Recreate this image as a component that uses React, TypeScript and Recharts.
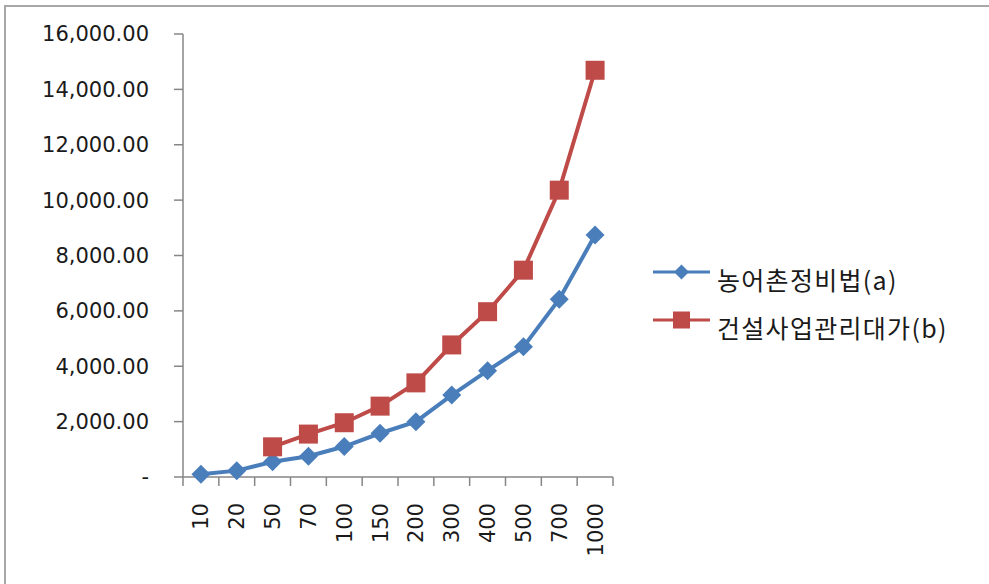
import React from 'react';
import { LineChart, Line, XAxis, YAxis } from 'recharts';

const categories = ['10', '20', '50', '70', '100', '150', '200', '300', '400', '500', '700', '1000'];
const seriesA = [100, 230, 550, 750, 1100, 1580, 2000, 2960, 3840, 4700, 6420, 8740];
const seriesB: (number | null)[] = [null, null, 1090, 1550, 1960, 2560, 3400, 4770, 5970, 7470, 10360, 14690];
const yTicks = [0, 2000, 4000, 6000, 8000, 10000, 12000, 14000, 16000];
const seriesNames = ['농어촌정비법(a)', '건설사업관리대가(b)'];
const seriesColors = ['#4a7ebb', '#be4b48'];

const data = categories.map((c, i) => ({ cat: c, a: seriesA[i], b: seriesB[i] }));

const W = 989;
const H = 584;
const PLOT_LEFT = 183;
const PLOT_RIGHT = 613;
const PLOT_TOP = 34;
const PLOT_BOTTOM = 477;
const PLOT_W = PLOT_RIGHT - PLOT_LEFT;
const X_AXIS_H = 80;
const AXIS_COLOR = '#868686';
const TEXT_COLOR = '#1a1a1a';
const FONT = '"DejaVu Sans", Verdana, sans-serif';

const fmtY = (v: number) =>
  v === 0 ? '-' : v.toLocaleString('en-US', { minimumFractionDigits: 2, maximumFractionDigits: 2 });

const Diamond = (props: any) => {
  const { cx, cy, r = 9.5, fill } = props;
  if (cx == null || cy == null || isNaN(cx) || isNaN(cy)) return <g />;
  return <polygon points={`${cx},${cy - r} ${cx + r},${cy} ${cx},${cy + r} ${cx - r},${cy}`} fill={fill} />;
};

const Square = (props: any) => {
  const { cx, cy, s = 19, fill } = props;
  if (cx == null || cy == null || isNaN(cx) || isNaN(cy)) return <g />;
  return <rect x={cx - s / 2} y={cy - s / 2} width={s} height={s} fill={fill} />;
};

const XTick = (props: any) => {
  const { x, y, payload, index } = props;
  const half = PLOT_W / categories.length / 2;
  return (
    <g>
      <line x1={x - half} x2={x - half} y1={y} y2={y + 9} stroke={AXIS_COLOR} strokeWidth={1.5} />
      {index === categories.length - 1 && (
        <line x1={x + half} x2={x + half} y1={y} y2={y + 9} stroke={AXIS_COLOR} strokeWidth={1.5} />
      )}
      <text
        x={x}
        y={y + 26}
        transform={`rotate(-90 ${x} ${y + 26})`}
        textAnchor="end"
        dy="0.36em"
        fontSize={21}
        fontFamily={FONT}
        fill={TEXT_COLOR}
      >
        {payload.value}
      </text>
    </g>
  );
};

const LegendBox = () => (
  <div style={{ position: 'absolute', left: 653, top: 248, fontFamily: '"Noto Sans CJK KR", sans-serif' }}>
    {seriesNames.map((name, i) => (
      <div key={name} style={{ position: 'relative', height: 48 }}>
        <svg width={64} height={24} style={{ display: 'block', position: 'absolute', left: 0, top: 12 }}>
          <line x1={0} x2={57} y1={12} y2={12} stroke={seriesColors[i]} strokeWidth={3} />
          {i === 0 ? (
            <Diamond cx={28.5} cy={12} r={7.5} fill={seriesColors[i]} />
          ) : (
            <Square cx={28.5} cy={12} s={17} fill={seriesColors[i]} />
          )}
        </svg>
        <span
          style={{
            position: 'absolute',
            left: 64,
            top: 18,
            fontSize: 25,
            letterSpacing: 1.3,
            color: TEXT_COLOR,
            whiteSpace: 'nowrap',
            lineHeight: '26px',
          }}
        >
          {name}
        </span>
      </div>
    ))}
  </div>
);

export default function App() {
  return (
    <div style={{ position: 'absolute', left: 0, top: 0, width: W, height: H, overflow: 'hidden', background: '#fff' }}>
      <div
        style={{
          position: 'absolute',
          left: 4,
          top: 5,
          width: W + 40,
          height: H + 40,
          borderLeft: '2px solid #a8a8a8',
          borderTop: '2px solid #a8a8a8',
          boxSizing: 'border-box',
        }}
      />
      <div style={{ position: 'absolute', left: 0, top: 0 }}>
        <LineChart
          width={W}
          height={H}
          data={data}
          margin={{ top: PLOT_TOP, right: W - PLOT_RIGHT, bottom: H - PLOT_BOTTOM - X_AXIS_H, left: 0 }}
        >
          <XAxis
            dataKey="cat"
            scale="band"
            height={X_AXIS_H}
            tickLine={false}
            tickSize={0}
            tickMargin={0}
            interval={0}
            axisLine={{ stroke: AXIS_COLOR, strokeWidth: 1.5 }}
            tick={<XTick />}
          />
          <YAxis
            width={PLOT_LEFT}
            domain={[0, 16000]}
            ticks={yTicks}
            tickFormatter={fmtY}
            tickSize={9}
            tickMargin={25}
            axisLine={{ stroke: AXIS_COLOR, strokeWidth: 1.5 }}
            tickLine={{ stroke: AXIS_COLOR, strokeWidth: 1.5 }}
            tick={{ fontSize: 21, fontFamily: FONT, fill: TEXT_COLOR }}
            interval={0}
          />
          <Line
            dataKey="a"
            stroke={seriesColors[0]}
            strokeWidth={4}
            dot={<Diamond fill={seriesColors[0]} r={9.5} />}
            activeDot={false}
            isAnimationActive={false}
          />
          <Line
            dataKey="b"
            stroke={seriesColors[1]}
            strokeWidth={4}
            dot={<Square fill={seriesColors[1]} s={19} />}
            activeDot={false}
            isAnimationActive={false}
          />
        </LineChart>
      </div>
      <LegendBox />
    </div>
  );
}
